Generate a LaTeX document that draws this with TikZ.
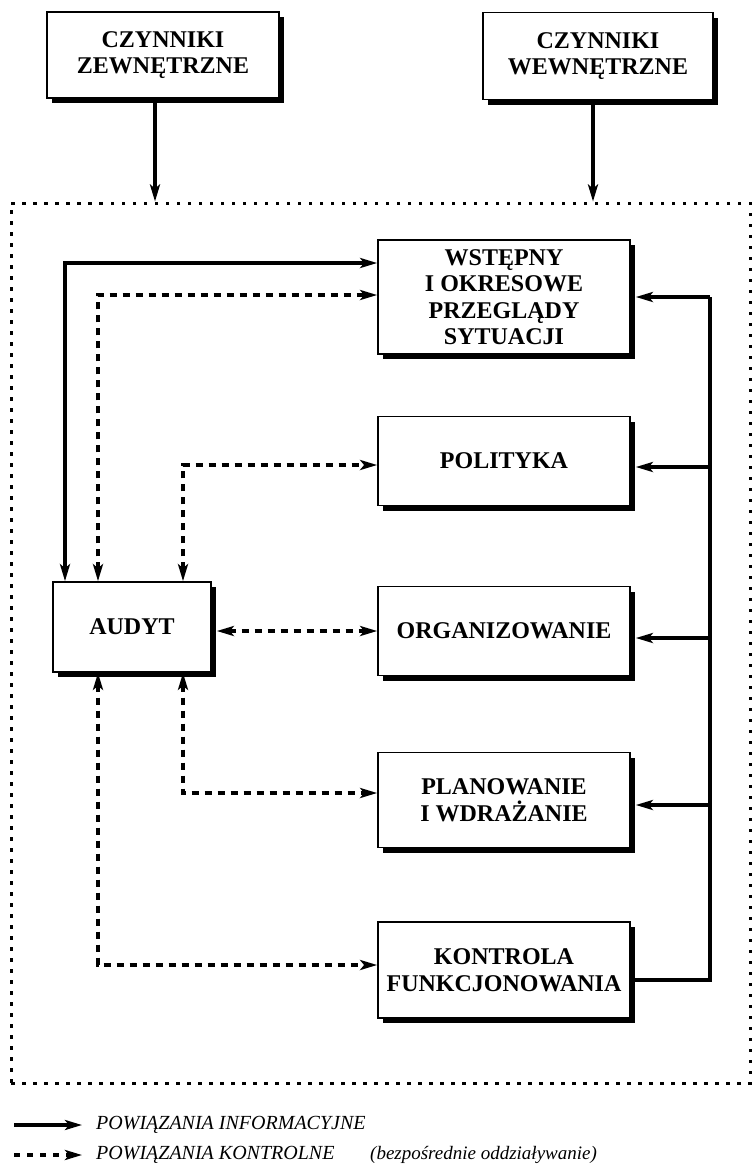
\documentclass[tikz,border=0pt]{standalone}
\usepackage{fontspec}
\setmainfont{Liberation Serif}
\usetikzlibrary{arrows.meta,shadows}
\tikzset{
  >={Stealth[length=17pt,width=10pt,inset=4pt]},
  box/.style={draw, line width=1.7pt, fill=white, align=center, inner sep=0pt,
    font=\bfseries\fontsize{24}{26.5}\selectfont,
    drop shadow={shadow xshift=5pt, shadow yshift=-5pt, opacity=1, fill=black}},
  info/.style={line width=3.2pt, ->},
  ctrl/.style={line width=3.2pt, dash pattern=on 7.5pt off 5.5pt, <->},
  framebox/.style={draw, line width=3pt, dash pattern=on 3.5pt off 7.5pt, inner sep=0pt},
  legend/.style={anchor=west, inner sep=0pt, font=\itshape\fontsize{20}{22}\selectfont},
}
\begin{document}
\begin{tikzpicture}[x=1pt,y=-1pt]
\useasboundingbox (0,0) rectangle (754,1171);
% outer frame
\node[framebox, minimum width=739pt, minimum height=880pt] (frame) at (380.5,643) {};
% boxes
\node[box, minimum width=232pt, minimum height=86pt] (zewn) at (163,55) {CZYNNIKI\\ZEWNĘTRZNE};
\node[box, minimum width=230pt, minimum height=87pt] (wewn) at (598,56) {CZYNNIKI\\WEWNĘTRZNE};
\node[box, minimum width=252pt, minimum height=114pt] (wst) at (504,297) {WSTĘPNY\\I OKRESOWE\\PRZEGLĄDY\\SYTUACJI};
\node[box, minimum width=252pt, minimum height=89pt] (pol) at (504,461) {POLITYKA};
\node[box, minimum width=252pt, minimum height=89pt] (org) at (504,631) {ORGANIZOWANIE};
\node[box, minimum width=252pt, minimum height=95pt] (plan) at (504,800) {PLANOWANIE\\I WDRAŻANIE};
\node[box, minimum width=252pt, minimum height=96pt] (kon) at (504,970) {KONTROLA\\FUNKCJONOWANIA};
\node[box, minimum width=158pt, minimum height=90pt] (aud) at (132,627) {AUDYT};
% routing coordinates
\coordinate (c1) at (155,0);
\coordinate (c2) at (593,0);
\coordinate (sx) at (65,0);
\coordinate (d1) at (98,0);
\coordinate (d2) at (183,0);
\coordinate (bus) at (710,0);
% external factors
\draw[info] (zewn.south -| c1) -- (frame.north -| c1);
\draw[info] (wewn.south -| c2) -- (frame.north -| c2);
% audit links
\draw[info,<->] (aud.north -| sx) |- ([yshift=34pt]wst.west);
\draw[ctrl] (aud.north -| d1) |- ([yshift=2pt]wst.west);
\draw[ctrl] (aud.north -| d2) |- ([yshift=-4pt]pol.west);
\draw[ctrl] ([xshift=5pt]aud.east |- org.west) -- (org.west);
\draw[ctrl] (aud.south -| d2) |- ([yshift=7pt]plan.west);
\draw[ctrl] (aud.south -| d1) |- ([yshift=5pt]kon.west);
% feedback bus
\draw[line width=3.2pt] ([yshift=-10pt]kon.east) -| (bus |- wst.east);
\draw[info] (bus |- wst.east) -- ([xshift=5pt]wst.east);
\draw[info] ([yshift=-6pt]pol.east -| bus) -- ([yshift=-6pt,xshift=5pt]pol.east);
\draw[info] ([yshift=-7pt]org.east -| bus) -- ([yshift=-7pt,xshift=5pt]org.east);
\draw[info] ([yshift=-5pt]plan.east -| bus) -- ([yshift=-5pt,xshift=5pt]plan.east);
% legend
\coordinate (la) at (14,1125);
\coordinate (lb) at (82,1125);
\coordinate (lc) at (14,1155);
\coordinate (ld) at (82,1155);
\draw[info] (la) -- (lb);
\draw[line width=3.6pt, dash pattern=on 6pt off 7pt, ->] (lc) -- (ld);
\node[legend] (lt1) at (96,1125) {POWIĄZANIA INFORMACYJNE};
\node[legend] (lt2) at (96,1155) {POWIĄZANIA KONTROLNE};
\node[legend, font=\itshape\fontsize{19}{22}\selectfont] (lt3) at (370,1155) {(bezpośrednie oddziaływanie)};
\end{tikzpicture}
\end{document}
